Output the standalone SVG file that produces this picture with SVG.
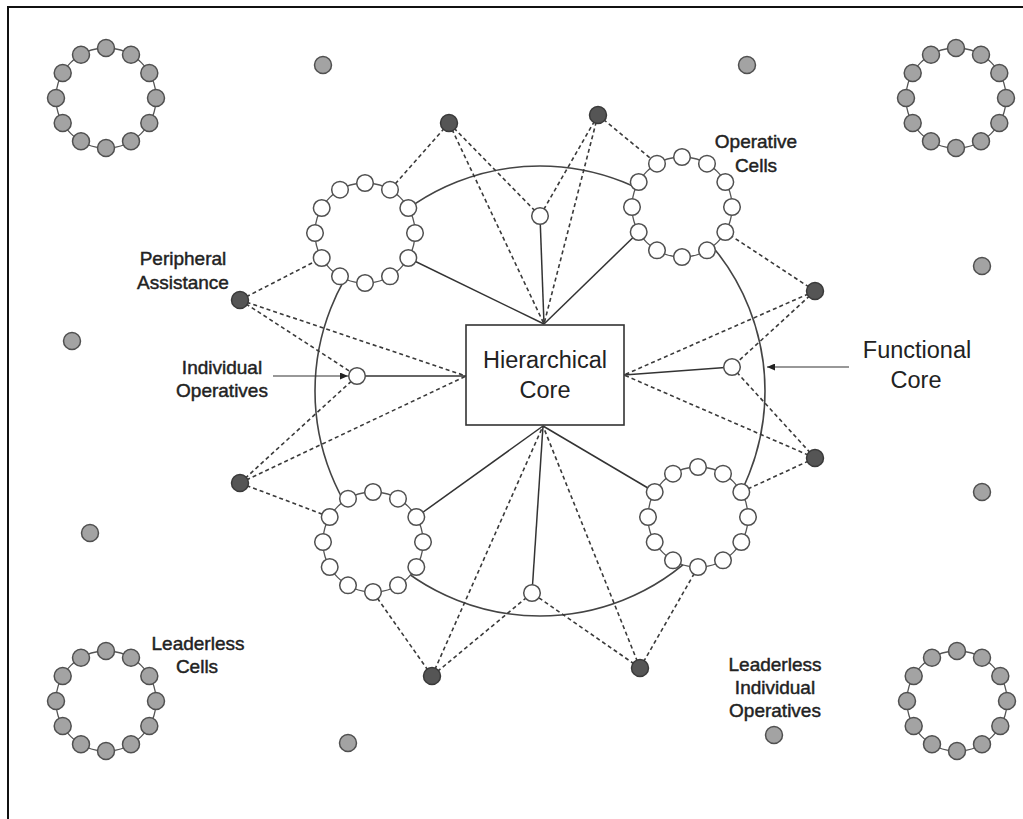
<svg xmlns="http://www.w3.org/2000/svg" xmlns:xlink="http://www.w3.org/1999/xlink" width="1023" height="819" viewBox="0 0 1023 819">
<style>
.frame{fill:none;stroke:#111;stroke-width:2}
.ringline{fill:none;stroke:#555;stroke-width:1.3}
.cellline{fill:#fff;stroke:#555;stroke-width:1.3}
.gray{fill:#a3a3a3;stroke:#505050;stroke-width:1.5}
.white{fill:#fff;stroke:#505050;stroke-width:1.5}
.dark{fill:#555;stroke:#3a3a3a;stroke-width:1.5}
.solid{fill:none;stroke:#333;stroke-width:1.5}
.dash{fill:none;stroke:#3a3a3a;stroke-width:1.6;stroke-dasharray:4 3}
.big{fill:none;stroke:#444;stroke-width:1.6}
.arrow{fill:none;stroke:#333;stroke-width:1.2}
.box{fill:#fff;stroke:#333;stroke-width:1.6}
text{font-family:"Liberation Sans",Arial,sans-serif;fill:#222;text-anchor:middle}
.lbl{font-size:19px;stroke:#222;stroke-width:0.45}
.big-lbl{font-size:23.5px}
</style>
<defs>
<marker id="ah" markerWidth="8" markerHeight="7" refX="8" refY="3.5" orient="auto" markerUnits="userSpaceOnUse">
<path d="M0,0 L8,3.5 L0,7 Z" fill="#222"/>
</marker>
<g id="grayRing">
<circle r="50" class="ringline"/>
<circle cx="0" cy="-50" r="8.5" class="gray"/>
<circle cx="25" cy="-43.3" r="8.5" class="gray"/>
<circle cx="43.3" cy="-25" r="8.5" class="gray"/>
<circle cx="50" cy="0" r="8.5" class="gray"/>
<circle cx="43.3" cy="25" r="8.5" class="gray"/>
<circle cx="25" cy="43.3" r="8.5" class="gray"/>
<circle cx="0" cy="50" r="8.5" class="gray"/>
<circle cx="-25" cy="43.3" r="8.5" class="gray"/>
<circle cx="-43.3" cy="25" r="8.5" class="gray"/>
<circle cx="-50" cy="0" r="8.5" class="gray"/>
<circle cx="-43.3" cy="-25" r="8.5" class="gray"/>
<circle cx="-25" cy="-43.3" r="8.5" class="gray"/>
</g>
<g id="whiteCell">
<circle r="50" class="cellline"/>
<circle cx="0" cy="-50" r="8.3" class="white"/>
<circle cx="25" cy="-43.3" r="8.3" class="white"/>
<circle cx="43.3" cy="-25" r="8.3" class="white"/>
<circle cx="50" cy="0" r="8.3" class="white"/>
<circle cx="43.3" cy="25" r="8.3" class="white"/>
<circle cx="25" cy="43.3" r="8.3" class="white"/>
<circle cx="0" cy="50" r="8.3" class="white"/>
<circle cx="-25" cy="43.3" r="8.3" class="white"/>
<circle cx="-43.3" cy="25" r="8.3" class="white"/>
<circle cx="-50" cy="0" r="8.3" class="white"/>
<circle cx="-43.3" cy="-25" r="8.3" class="white"/>
<circle cx="-25" cy="-43.3" r="8.3" class="white"/>
</g>
</defs>
<rect width="1023" height="819" fill="#fff"/>
<path class="frame" d="M8,830 V7 H1030"/>

<g id="connectors">
<circle id="functional-core" class="big" cx="540" cy="391" r="225"/>
<line class="solid" x1="544" y1="324" x2="408.3" y2="258"/>
<line class="solid" x1="544" y1="324" x2="540" y2="216"/>
<line class="solid" x1="544" y1="324" x2="638.7" y2="232"/>
<line class="solid" x1="466" y1="376" x2="357" y2="376"/>
<line class="solid" x1="624" y1="375" x2="732" y2="367"/>
<line class="solid" x1="543" y1="426" x2="416.3" y2="517"/>
<line class="solid" x1="543" y1="426" x2="532" y2="593"/>
<line class="solid" x1="543" y1="426" x2="654.7" y2="492"/>

<line class="dash" x1="449" y1="123" x2="390" y2="189.7"/>
<line class="dash" x1="449" y1="123" x2="544" y2="324"/>
<line class="dash" x1="449" y1="123" x2="540" y2="216"/>
<line class="dash" x1="598" y1="115" x2="540" y2="216"/>
<line class="dash" x1="598" y1="115" x2="544" y2="324"/>
<line class="dash" x1="598" y1="115" x2="657" y2="163.7"/>
<line class="dash" x1="815" y1="291" x2="725.3" y2="232"/>
<line class="dash" x1="815" y1="291" x2="624" y2="375"/>
<line class="dash" x1="815" y1="291" x2="732" y2="367"/>
<line class="dash" x1="815" y1="458" x2="732" y2="367"/>
<line class="dash" x1="815" y1="458" x2="624" y2="375"/>
<line class="dash" x1="815" y1="458" x2="741.3" y2="492"/>
<line class="dash" x1="640" y1="668" x2="698" y2="567"/>
<line class="dash" x1="640" y1="668" x2="543" y2="426"/>
<line class="dash" x1="640" y1="668" x2="532" y2="593"/>
<line class="dash" x1="432" y1="676" x2="373" y2="592"/>
<line class="dash" x1="432" y1="676" x2="543" y2="426"/>
<line class="dash" x1="432" y1="676" x2="532" y2="593"/>
<line class="dash" x1="240" y1="483" x2="329.7" y2="517"/>
<line class="dash" x1="240" y1="483" x2="357" y2="376"/>
<line class="dash" x1="240" y1="483" x2="466" y2="376"/>
<line class="dash" x1="240" y1="300" x2="321.7" y2="258"/>
<line class="dash" x1="240" y1="300" x2="466" y2="376"/>
<line class="dash" x1="240" y1="300" x2="357" y2="376"/>

<line class="arrow" x1="273" y1="376" x2="348" y2="376" marker-end="url(#ah)"/>
<line class="arrow" x1="849" y1="367" x2="767" y2="367" marker-end="url(#ah)"/>
</g>

<g id="hierarchical-core">
<rect class="box" x="466" y="325" width="158" height="100"/>
<text class="big-lbl" x="545" y="368">Hierarchical</text>
<text class="big-lbl" x="545" y="398">Core</text>
</g>

<g id="cell-top-left"><use xlink:href="#whiteCell" href="#whiteCell" x="365" y="233"/></g>
<g id="cell-top-right"><use xlink:href="#whiteCell" href="#whiteCell" x="682" y="207"/></g>
<g id="cell-bottom-left"><use xlink:href="#whiteCell" href="#whiteCell" x="373" y="542"/></g>
<g id="cell-bottom-right"><use xlink:href="#whiteCell" href="#whiteCell" x="698" y="517"/></g>

<g id="individual-top"><circle class="white" cx="540" cy="216" r="8.3"/></g>
<g id="individual-left"><circle class="white" cx="357" cy="376" r="8.3"/></g>
<g id="individual-right"><circle class="white" cx="732" cy="367" r="8.3"/></g>
<g id="individual-bottom"><circle class="white" cx="532" cy="593" r="8.3"/></g>

<g id="peripheral-1"><circle class="dark" cx="449" cy="123" r="8.5"/></g>
<g id="peripheral-2"><circle class="dark" cx="598" cy="115" r="8.5"/></g>
<g id="peripheral-3"><circle class="dark" cx="815" cy="291" r="8.5"/></g>
<g id="peripheral-4"><circle class="dark" cx="815" cy="458" r="8.5"/></g>
<g id="peripheral-5"><circle class="dark" cx="640" cy="668" r="8.5"/></g>
<g id="peripheral-6"><circle class="dark" cx="432" cy="676" r="8.5"/></g>
<g id="peripheral-7"><circle class="dark" cx="240" cy="483" r="8.5"/></g>
<g id="peripheral-8"><circle class="dark" cx="240" cy="300" r="8.5"/></g>

<g id="leaderless-cell-tl"><use xlink:href="#grayRing" href="#grayRing" x="106" y="98"/></g>
<g id="leaderless-cell-tr"><use xlink:href="#grayRing" href="#grayRing" x="956" y="98"/></g>
<g id="leaderless-cell-bl"><use xlink:href="#grayRing" href="#grayRing" x="106" y="701"/></g>
<g id="leaderless-cell-br"><use xlink:href="#grayRing" href="#grayRing" x="957" y="701"/></g>

<g id="leaderless-ind-1"><circle class="gray" cx="323" cy="65" r="8.5"/></g>
<g id="leaderless-ind-2"><circle class="gray" cx="747" cy="65" r="8.5"/></g>
<g id="leaderless-ind-3"><circle class="gray" cx="72" cy="341" r="8.5"/></g>
<g id="leaderless-ind-4"><circle class="gray" cx="982" cy="266" r="8.5"/></g>
<g id="leaderless-ind-5"><circle class="gray" cx="90" cy="533" r="8.5"/></g>
<g id="leaderless-ind-6"><circle class="gray" cx="982" cy="492" r="8.5"/></g>
<g id="leaderless-ind-7"><circle class="gray" cx="348" cy="743" r="8.5"/></g>
<g id="leaderless-ind-8"><circle class="gray" cx="774" cy="735" r="8.5"/></g>

<g id="labels">
<text class="lbl" x="183" y="265">Peripheral</text>
<text class="lbl" x="183" y="289">Assistance</text>
<text class="lbl" x="222" y="374">Individual</text>
<text class="lbl" x="222" y="397">Operatives</text>
<text class="lbl" x="756" y="148">Operative</text>
<text class="lbl" x="756" y="172">Cells</text>
<text class="big-lbl" x="917" y="358">Functional</text>
<text class="big-lbl" x="916" y="388">Core</text>
<text class="lbl" x="198" y="650">Leaderless</text>
<text class="lbl" x="197" y="673">Cells</text>
<text class="lbl" x="775" y="671">Leaderless</text>
<text class="lbl" x="775" y="694">Individual</text>
<text class="lbl" x="775" y="717">Operatives</text>
</g>
</svg>
